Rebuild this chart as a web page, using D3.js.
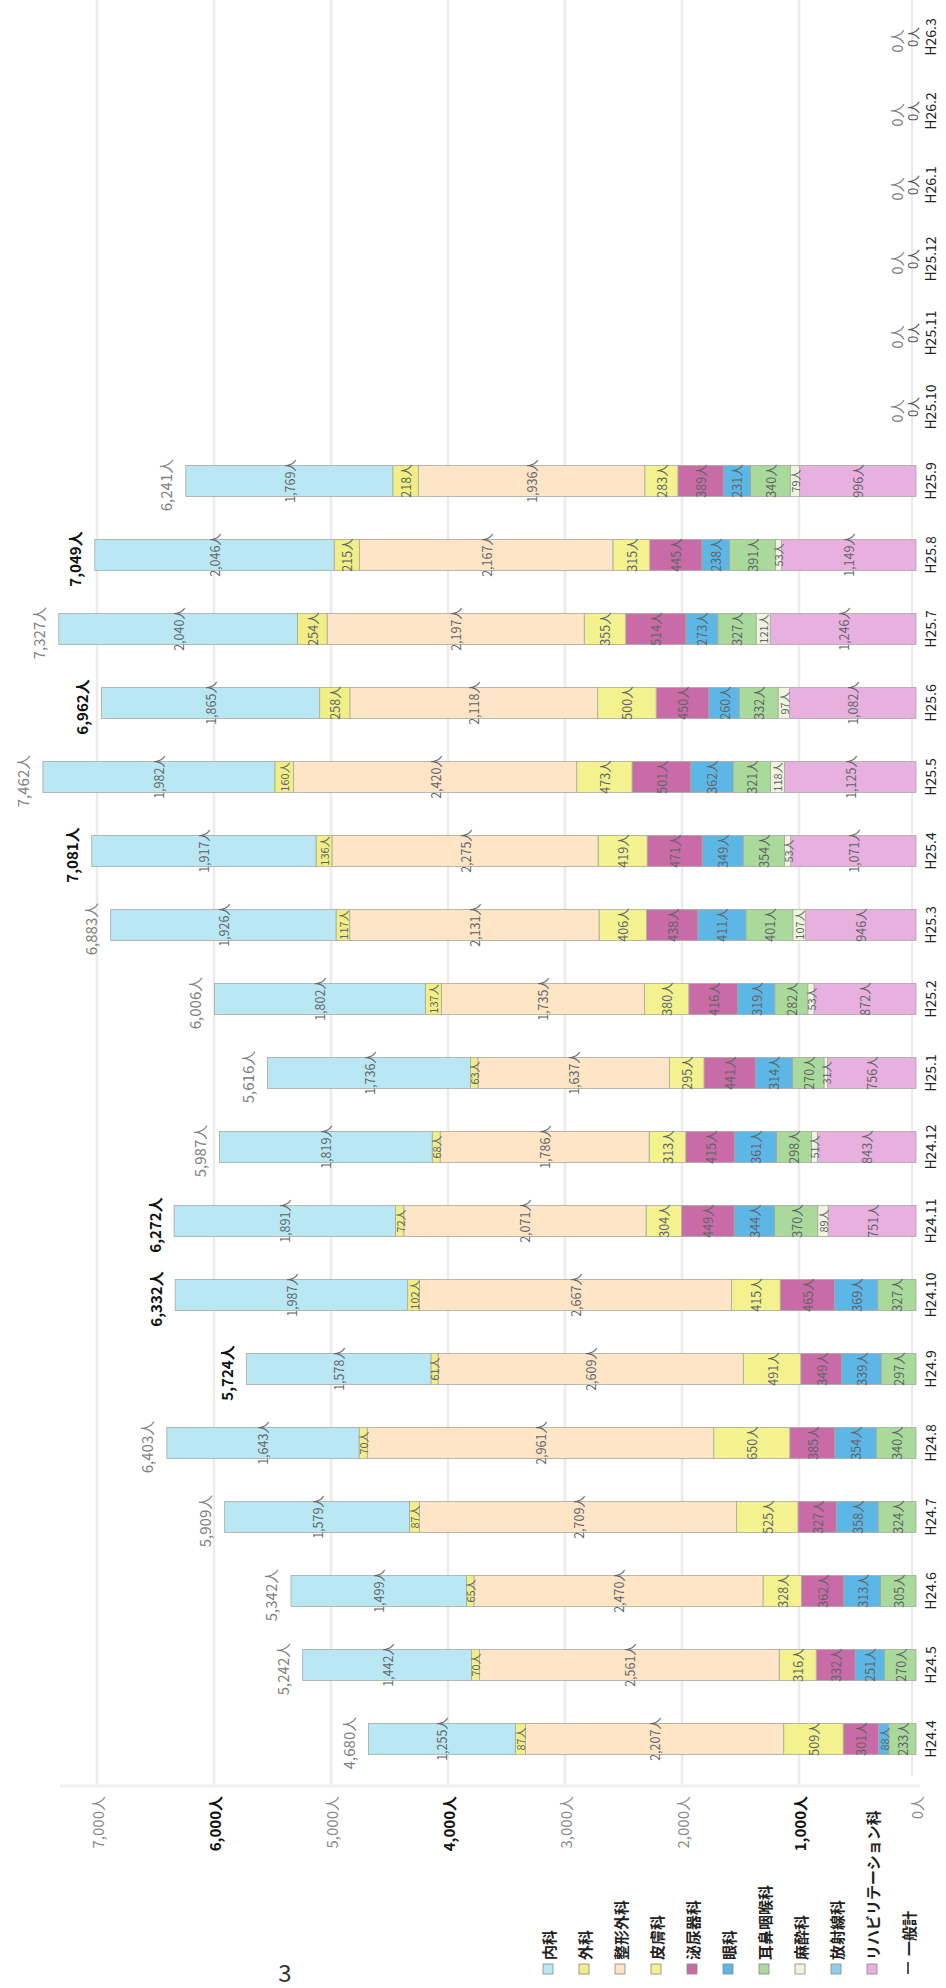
<!DOCTYPE html>
<html>
<head>
<meta charset="utf-8">
<script src="https://cdn.jsdelivr.net/npm/d3@7"></script>
<style>
  html, body { margin: 0; padding: 0; background: #fff; }
  svg text { font-family: "Noto Sans CJK JP", "DejaVu Sans", sans-serif; }
</style>
</head>
<body>
<div id="chart"></div>
<script>
// months, oldest first (the page is printed turned on its side)
const months = ['H24.4','H24.5','H24.6','H24.7','H24.8','H24.9','H24.10','H24.11','H24.12',
  'H25.1','H25.2','H25.3','H25.4','H25.5','H25.6','H25.7','H25.8','H25.9',
  'H25.10','H25.11','H25.12','H26.1','H26.2','H26.3'];

const naika    = [1255,1442,1499,1579,1643,1578,1987,1891,1819,1736,1802,1926,1917,1982,1865,2040,2046,1769,0,0,0,0,0,0];
const geka     = [87,70,65,87,70,61,102,72,68,63,137,117,136,160,258,254,215,218,0,0,0,0,0,0];
const seikei   = [2207,2561,2470,2709,2961,2609,2667,2071,1786,1637,1735,2131,2275,2420,2118,2197,2167,1936,0,0,0,0,0,0];
const hifu     = [509,316,328,525,650,491,415,304,313,295,380,406,419,473,500,355,315,283,0,0,0,0,0,0];
const hinyo    = [301,332,362,327,385,349,465,449,415,441,416,438,471,501,450,514,445,389,0,0,0,0,0,0];
const ganka    = [88,251,313,358,354,339,369,344,361,314,319,411,349,362,260,273,238,231,0,0,0,0,0,0];
const jibika   = [233,270,305,324,340,297,327,370,298,270,282,401,354,321,332,327,391,340,0,0,0,0,0,0];
const masui    = [0,0,0,0,0,0,0,89,51,31,53,107,53,118,97,121,53,79,0,0,0,0,0,0];
const hoshasen = [0,0,0,0,0,0,0,0,0,0,0,0,0,0,0,0,0,0,0,0,0,0,0,0];
const reha     = [0,0,0,0,0,0,0,751,843,756,872,946,1071,1125,1082,1246,1149,996,0,0,0,0,0,0];
const totals   = [4680,5242,5342,5909,6403,5724,6332,6272,5987,5616,6006,6883,7081,7462,6962,7327,7049,6241,0,0,0,0,0,0];

const tickValues = [0,1000,2000,3000,4000,5000,6000,7000];

// legend order, top of the stack first
const legendNames = ['内科','外科','整形外科','皮膚科','泌尿器科','眼科','耳鼻咽喉科','麻酔科','放射線科','リハビリテーション科','一般計'];

// stack order from the zero line outwards
const series = [
  { key: 'リハビリテーション科', values: reha,     color: '#e8b0de' },
  { key: '放射線科',             values: hoshasen, color: '#8fd0ec' },
  { key: '麻酔科',               values: masui,    color: '#eef4e0' },
  { key: '耳鼻咽喉科',           values: jibika,   color: '#a9d99b' },
  { key: '眼科',                 values: ganka,    color: '#5db7e6' },
  { key: '泌尿器科',             values: hinyo,    color: '#c96ba6' },
  { key: '皮膚科',               values: hifu,     color: '#f4f28e' },
  { key: '整形外科',             values: seikei,   color: '#fde5c6' },
  { key: '外科',                 values: geka,     color: '#f1ee86' },
  { key: '内科',                 values: naika,    color: '#b9e8f4' }
];
const colorOf = Object.fromEntries(series.map(s => [s.key, s.color]));

const W = 946, H = 1988;
const svg = d3.select('#chart').append('svg')
  .attr('width', W).attr('height', H)
  .style('display', 'block');

svg.append('rect').attr('width', W).attr('height', H).attr('fill', '#fff');

// value runs right to left, months top (newest) to bottom
const x = d3.scaleLinear().domain([0, 7000]).range([916, 97]);
const y = d3.scaleBand()
  .domain(months.slice().reverse())
  .range([0, 1776])
  .paddingInner(0.58)
  .paddingOuter(0.29);

// faint grid
svg.append('g').selectAll('line')
  .data(tickValues.filter(v => v > 0))
  .join('line')
  .attr('x1', d => x(d)).attr('x2', d => x(d))
  .attr('y1', 0).attr('y2', 1786)
  .attr('stroke', '#ececec').attr('stroke-width', 2.5);

svg.append('line')
  .attr('x1', 60).attr('x2', 920).attr('y1', 1786).attr('y2', 1786)
  .attr('stroke', '#efefef').attr('stroke-width', 3);

// category axis on the zero line
svg.append('line')
  .attr('x1', x(0) - 4).attr('x2', x(0) - 4).attr('y1', 0).attr('y2', 1776)
  .attr('stroke', '#d4d4d4').attr('stroke-width', 1);

const rows = months.map((m, i) => {
  const r = { month: m };
  series.forEach(s => { r[s.key] = s.values[i]; });
  return r;
});

const stacked = d3.stack().keys(series.map(s => s.key))(rows);

const layer = svg.append('g').selectAll('g')
  .data(stacked)
  .join('g')
  .attr('fill', d => colorOf[d.key]);

layer.selectAll('rect')
  .data(d => d.filter(p => p[1] - p[0] > 0))
  .join('rect')
  .attr('x', p => x(p[1]))
  .attr('y', p => y(p.data.month))
  .attr('width', p => x(p[0]) - x(p[1]))
  .attr('height', y.bandwidth())
  .attr('stroke', '#a9a9a0')
  .attr('stroke-width', 0.8);

// value labels inside the segments
const fmt = v => d3.format(',')(v) + '人';
const segLabels = [];
stacked.forEach(s => s.forEach(p => {
  const v = p[1] - p[0];
  if (v > 0) segLabels.push({ v, cx: (x(p[0]) + x(p[1])) / 2, month: p.data.month });
}));

svg.append('g').selectAll('text')
  .data(segLabels)
  .join('text')
  .attr('transform', d => `translate(${d.cx},${y(d.month) + y.bandwidth() / 2}) rotate(-90)`)
  .attr('text-anchor', 'middle')
  .attr('dominant-baseline', 'central')
  .attr('font-size', d => d.v < 200 ? 11 : 12.5)
  .attr('fill', '#5f6468')
  .text(d => fmt(d.v));

// totals beyond the bar ends
const darkTotals = ['H24.9','H24.10','H24.11','H25.4','H25.6','H25.8'];
svg.append('g').selectAll('text')
  .data(months.map((m, i) => ({ month: m, total: totals[i], len: d3.sum(series, s => s.values[i]) })))
  .join('text')
  .attr('transform', d => `translate(${x(d.len) - 20},${y(d.month) + y.bandwidth() / 2 + 4}) rotate(-90)`)
  .attr('text-anchor', 'middle')
  .attr('dominant-baseline', 'central')
  .attr('font-size', 15)
  .attr('font-weight', d => darkTotals.includes(d.month) ? 700 : 400)
  .attr('fill', d => darkTotals.includes(d.month) ? '#111' : '#808080')
  .text(d => fmt(d.total));

// zero labels for the empty months
svg.append('g').selectAll('text')
  .data(months.filter((m, i) => totals[i] === 0))
  .join('text')
  .attr('transform', d => `translate(${x(0) - 4},${y(d) + y.bandwidth() / 2}) rotate(-90)`)
  .attr('text-anchor', 'middle')
  .attr('dominant-baseline', 'central')
  .attr('font-size', 13)
  .attr('fill', '#555')
  .text('0人');

// month labels
svg.append('g').selectAll('text')
  .data(months)
  .join('text')
  .attr('transform', d => `translate(${x(0) + 14},${y(d) + y.bandwidth() / 2}) rotate(-90)`)
  .attr('text-anchor', 'middle')
  .attr('dominant-baseline', 'central')
  .attr('font-family', '"Liberation Mono", monospace')
  .attr('font-size', 14)
  .attr('fill', '#222')
  .text(d => d);

// value axis labels
const darkTicks = [1000, 4000, 6000];
svg.append('g').selectAll('text')
  .data(tickValues)
  .join('text')
  .attr('transform', d => `translate(${x(d)},1796) rotate(-90)`)
  .attr('text-anchor', 'end')
  .attr('dominant-baseline', 'central')
  .attr('font-size', 15)
  .attr('font-weight', d => darkTicks.includes(d) ? 700 : 400)
  .attr('fill', d => darkTicks.includes(d) ? '#111' : '#8a8a8a')
  .text(d => fmt(d));

// legend
const lx = d3.scalePoint().domain(legendNames).range([548, 908]);
const legend = svg.append('g').selectAll('g')
  .data(legendNames)
  .join('g')
  .attr('transform', d => `translate(${lx(d)},1974)`);

legend.filter(d => d !== '一般計').append('rect')
  .attr('x', -5).attr('y', -10).attr('width', 10).attr('height', 10)
  .attr('fill', d => colorOf[d])
  .attr('stroke', '#888').attr('stroke-width', 0.8);

legend.filter(d => d === '一般計').append('line')
  .attr('x1', 0).attr('x2', 0).attr('y1', 0).attr('y2', -12)
  .attr('stroke', '#222').attr('stroke-width', 1.5);

legend.append('text')
  .attr('transform', d => `translate(0,${d === '一般計' ? -18 : -14}) rotate(-90)`)
  .attr('text-anchor', 'start')
  .attr('dominant-baseline', 'central')
  .attr('font-size', 15)
  .attr('font-weight', 700)
  .attr('fill', '#222')
  .text(d => d);

// page number
svg.append('text')
  .attr('x', 285).attr('y', 1982)
  .attr('text-anchor', 'middle')
  .attr('font-size', 24)
  .attr('fill', '#333')
  .text('3');
</script>
</body>
</html>
